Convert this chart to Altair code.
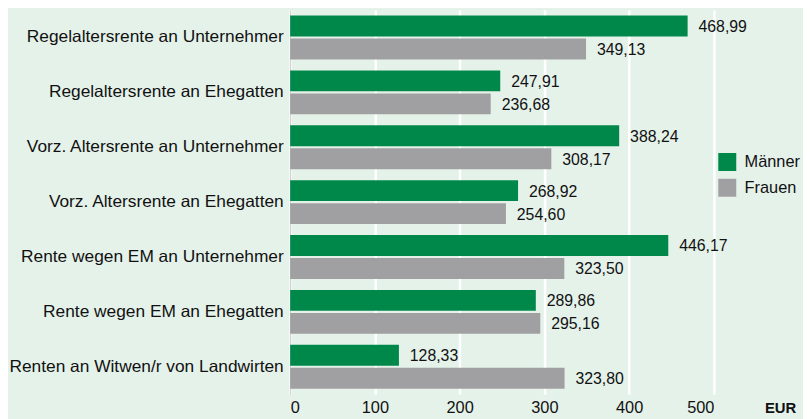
import altair as alt
import pandas as pd

categories = [
    "Regelaltersrente an Unternehmer",
    "Regelaltersrente an Ehegatten",
    "Vorz. Altersrente an Unternehmer",
    "Vorz. Altersrente an Ehegatten",
    "Rente wegen EM an Unternehmer",
    "Rente wegen EM an Ehegatten",
    "Renten an Witwen/r von Landwirten",
]
maenner = [468.99, 247.91, 388.24, 268.92, 446.17, 289.86, 128.33]
frauen = [349.13, 236.68, 308.17, 254.60, 323.50, 295.16, 323.80]
series = ["Männer", "Frauen"]
colors = ["#00884a", "#a0a0a2"]

rows = []
for c, m, f in zip(categories, maenner, frauen):
    for s, v in zip(series, [m, f]):
        rows.append({"cat": c, "series": s, "value": v,
                     "label": f"{v:.2f}".replace(".", ",")})
df = pd.DataFrame(rows)

FONT = "Liberation Sans"

y_enc = alt.Y("cat:N", sort=categories,
              scale=alt.Scale(paddingInner=0.2, paddingOuter=0.1),
              axis=alt.Axis(title=None, labelFontSize=17.5, labelColor="#111111",
                            labelPadding=7, labelLimit=0, ticks=False, domain=True,
                            domainColor="#c8c8c8", grid=False, labelFont=FONT))
yoff = alt.YOffset("series:N", sort=series,
                   scale=alt.Scale(paddingInner=0.09, paddingOuter=0))
x_enc = alt.X("value:Q", scale=alt.Scale(domain=[0, 500], nice=False),
              axis=alt.Axis(values=[0, 100, 200, 300, 400, 500], title="EUR",
                            titleFont=FONT, titleFontSize=15, titleFontWeight="bold",
                            titleColor="#111111", titleAnchor="end", titleAlign="left",
                            titleX=479, titleY=14, titleBaseline="middle",
                            labelFontSize=16.5, labelColor="#111111", labelFont=FONT,
                            labelPadding=6, ticks=False, domain=False,
                            grid=True, gridColor="#ffffff", gridWidth=2.5))

bars = alt.Chart(df).mark_bar().encode(
    y=y_enc, yOffset=yoff, x=x_enc,
    color=alt.Color("series:N", sort=series,
                    scale=alt.Scale(domain=series, range=colors),
                    legend=alt.Legend(title=None, orient="none", legendX=432, legendY=144,
                                      symbolType="square", symbolSize=330,
                                      symbolStrokeWidth=0, symbolOpacity=1,
                                      labelFontSize=16.5, labelFont=FONT,
                                      labelColor="#111111", rowPadding=7,
                                      labelOffset=8, labelLimit=0)),
)
texts = alt.Chart(df).mark_text(align="left", baseline="middle", dx=11, dy=1,
                                fontSize=16, font=FONT, color="#111111").encode(
    y=alt.Y("cat:N", sort=categories), yOffset=alt.YOffset("series:N", sort=series),
    x="value:Q", text="label:N",
)

chart = alt.layer(bars, texts).properties(
    width=428, height=388,
    background="#e5f2ea",
    padding={"left": 285, "top": 0, "right": 90, "bottom": 23},
    autosize=alt.AutoSizeParams(type="none"),
).configure_view(stroke=None, fill="#e5f2ea")

chart.save("out.html", embed_options={"renderer": "svg", "actions": False})
